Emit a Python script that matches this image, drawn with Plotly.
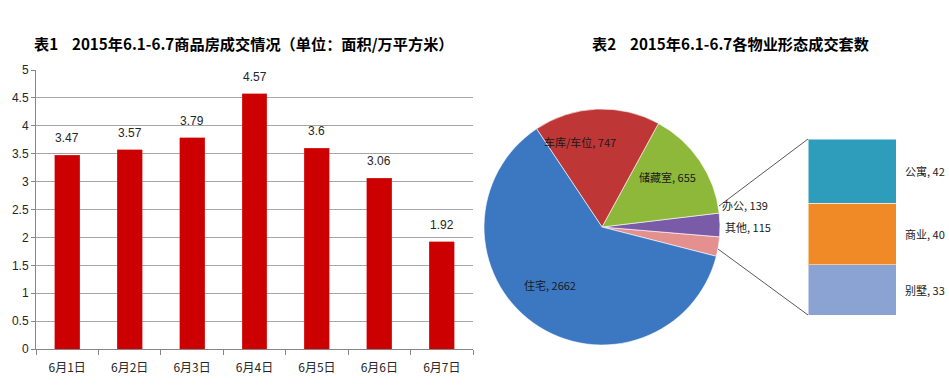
import plotly.graph_objects as go

W, H = 949, 392

# ---------------- data ----------------
days = ["6月1日", "6月2日", "6月3日", "6月4日", "6月5日", "6月6日", "6月7日"]
area = [3.47, 3.57, 3.79, 4.57, 3.6, 3.06, 1.92]
y_ticks = [0, 0.5, 1, 1.5, 2, 2.5, 3, 3.5, 4, 4.5, 5]

pie_labels = ["其他", "办公", "储藏室", "车库/车位", "住宅"]
pie_values = [115, 139, 655, 747, 2662]
pie_colors = ["#E3908E", "#7A5BA8", "#8DB83A", "#BE3636", "#3C78C2"]

other_labels = ["别墅", "商业", "公寓"]
other_values = [33, 40, 42]
other_colors = ["#8AA3D3", "#F08A26", "#2E9CBB"]

title1 = "表1\u00a0\u00a0\u00a0\u00a02015年6.1-6.7商品房成交情况（单位：面积/万平方米）"
title2 = "表2\u00a0\u00a0\u00a0\u00a02015年6.1-6.7各物业形态成交套数"

FONT = "Noto Sans CJK SC"

def px(x):
    return x / W

def py(y):
    return 1 - y / H

fig = go.Figure()

# ---- bar chart ----
fig.add_trace(go.Bar(
    x=days, y=area, width=0.4,
    marker=dict(color="#CC0000", line=dict(color="#E04040", width=0.5)),
    xaxis="x", yaxis="y", showlegend=False, hoverinfo="x+y",
))

# ---- pie ----
fig.add_trace(go.Pie(
    labels=pie_labels, values=pie_values, sort=False,
    direction="counterclockwise",
    rotation=90 + 360 * pie_values[0] / sum(pie_values) / 2,
    marker=dict(colors=pie_colors, line=dict(color="rgba(255,255,255,0.6)", width=1)),
    textinfo="none", showlegend=False,
    domain=dict(x=[px(484), px(720)], y=[py(345), py(109)]),
))

# ---- stacked bar of "other" ----
for lab, val, col in zip(other_labels, other_values, other_colors):
    fig.add_trace(go.Bar(
        x=[0], y=[val], width=1, name=lab,
        marker=dict(color=col, line=dict(color="rgba(255,255,255,0.5)", width=1)),
        xaxis="x2", yaxis="y2", showlegend=False,
    ))

annotations = []
# bar value labels
for d, v in zip(days, area):
    annotations.append(dict(
        x=d, y=v, xref="x", yref="y", text=f"{v:g}", showarrow=False,
        yshift=17, font=dict(size=12, color="#262626", family="Liberation Sans"),
    ))

# pie labels
pie_label_pos = {
    "住宅": (550, 285, "center"),
    "车库/车位": (580, 142, "center"),
    "储藏室": (667, 177, "center"),
    "办公": (720, 205, "left"),
    "其他": (723, 227, "left"),
}
for lab, val in zip(pie_labels, pie_values):
    x, y, al = pie_label_pos[lab]
    annotations.append(dict(
        x=px(x), y=py(y), xref="paper", yref="paper", text=f"{lab}, {val}",
        showarrow=False, xanchor=al, yanchor="middle",
        font=dict(size=11, color="#1a1a1a", family=FONT),
    ))

# stacked bar labels
cum = 0
for lab, val in zip(other_labels, other_values):
    annotations.append(dict(
        x=px(903), y=cum + val / 2, xref="paper", yref="y2",
        text=f"{lab}, {val}", showarrow=False, xanchor="left", yanchor="middle",
        font=dict(size=11, color="#1a1a1a", family=FONT),
    ))
    cum += val

# titles
annotations.append(dict(
    x=px(32), y=py(43), xref="paper", yref="paper", text=f"<b>{title1}</b>",
    showarrow=False, xanchor="left", yanchor="middle",
    font=dict(size=15.2, color="#000000", family=FONT),
))
annotations.append(dict(
    x=px(590), y=py(43), xref="paper", yref="paper", text=f"<b>{title2}</b>",
    showarrow=False, xanchor="left", yanchor="middle",
    font=dict(size=15.2, color="#000000", family=FONT),
))

shapes = [
    dict(type="line", xref="paper", yref="paper",
         x0=px(719), y0=py(206), x1=px(808), y1=py(139),
         line=dict(color="#595959", width=1)),
    dict(type="line", xref="paper", yref="paper",
         x0=px(718), y0=py(249), x1=px(808), y1=py(315),
         line=dict(color="#595959", width=1)),
]

fig.update_layout(
    width=W, height=H,
    margin=dict(l=0, r=0, t=0, b=0, autoexpand=False),
    paper_bgcolor="white", plot_bgcolor="white",
    barmode="stack",
    font=dict(family=FONT, color="#262626"),
    xaxis=dict(
        domain=[px(36), px(473)], type="category", automargin=False,
        showline=True, linecolor="#868686", linewidth=1,
        ticks="outside", tickson="boundaries", ticklen=5, tickcolor="#868686",
        ticklabelstandoff=8,
        showgrid=False, tickfont=dict(size=12, color="#262626", family=FONT),
        fixedrange=True,
    ),
    yaxis=dict(
        domain=[py(349), py(70)], range=[0, 5], automargin=False,
        tickmode="array", tickvals=y_ticks, ticktext=[f"{t:g}" for t in y_ticks],
        showline=True, linecolor="#868686", linewidth=1,
        ticks="outside", ticklen=4, tickcolor="#868686",
        showgrid=True, gridcolor="#A6A6A6", gridwidth=1,
        zeroline=False,
        tickfont=dict(size=12, color="#262626", family="Liberation Sans"),
        fixedrange=True,
    ),
    xaxis2=dict(
        domain=[px(808), px(896)], range=[-0.5, 0.5], anchor="y2",
        visible=False, fixedrange=True, automargin=False,
    ),
    yaxis2=dict(
        domain=[py(315), py(139)], range=[0, sum(other_values)], anchor="x2",
        visible=False, fixedrange=True, automargin=False,
    ),
    annotations=annotations,
    shapes=shapes,
)

fig.write_html(
    "out.html",
    config={"displayModeBar": False},
    post_script="document.body.style.margin='0';document.body.style.overflow='hidden';",
)
